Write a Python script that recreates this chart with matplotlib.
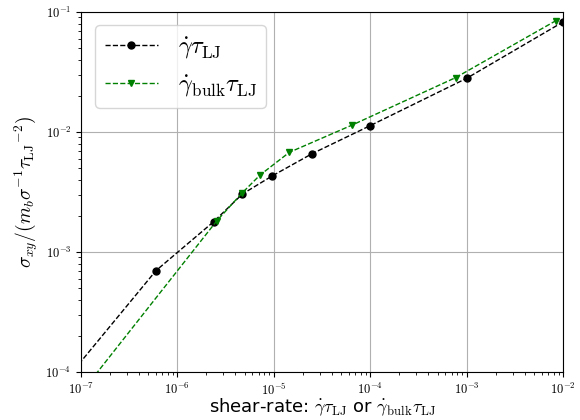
import matplotlib
matplotlib.use('Agg')
import matplotlib.pyplot as plt
from matplotlib.ticker import FuncFormatter, LogLocator
import numpy as np

plt.rcParams['mathtext.fontset'] = 'cm'
plt.rcParams['font.family'] = ['DejaVu Sans']

# shear rate vs shear stress (first point of each series lies outside the view)
rate = [1e-8, 6.0e-7, 2.38e-6, 4.72e-6, 9.6e-6, 2.5e-5, 1.0e-4, 1.0e-3, 1.0e-2]
stress = [1.3e-5, 7.0e-4, 1.79e-3, 3.04e-3, 4.3e-3, 6.6e-3, 1.13e-2, 2.8e-2, 8.26e-2]

rate_bulk = [5e-8, 2.55e-6, 4.65e-6, 7.2e-6, 1.45e-5, 6.5e-5, 7.7e-4, 8.45e-3]
stress_bulk = [3.3e-5, 1.81e-3, 3.08e-3, 4.38e-3, 6.77e-3, 1.143e-2, 2.84e-2, 8.47e-2]

fig = plt.figure(figsize=(5.8, 4.2), dpi=100)
ax = fig.add_axes([81/580, 1 - 372/420, 482/580, 360/420])

ax.plot(rate, stress, color='black', linestyle='--', marker='o',
        markersize=5, linewidth=1.0, label=r'$\dot{\gamma}\tau_{\rm LJ}$')
ax.plot(rate_bulk, stress_bulk, color='green', linestyle='--', marker='v',
        markersize=5, linewidth=1.0, label=r'$\dot{\gamma}_{\rm bulk}\tau_{\rm LJ}$')

ax.set_xscale('log')
ax.set_yscale('log')
ax.set_xlim(1e-7, 1e-2)
ax.set_ylim(1e-4, 1e-1)

fmt = FuncFormatter(lambda v, p: r'$10^{%d}$' % int(round(np.log10(v))))
ax.xaxis.set_major_formatter(fmt)
ax.yaxis.set_major_formatter(fmt)
ax.xaxis.set_major_locator(LogLocator(base=10, numticks=10))
ax.tick_params(labelsize=9)

ax.grid(True, which='major', color='#b0b0b0', linewidth=0.8)

ax.set_xlabel(r'shear-rate: $\dot{\gamma}\tau_{\rm LJ}$ or $\dot{\gamma}_{\rm bulk}\tau_{\rm LJ}$',
              fontsize=13, labelpad=-1)
ax.set_ylabel(r'$\sigma_{xy}/(m_b\sigma^{-1}{\tau_{\rm LJ}}^{-2})$', fontsize=14, labelpad=4)

ax.legend(loc='upper left', fontsize=17.5, handlelength=2.2, labelspacing=0.45,
          handletextpad=0.8, bbox_to_anchor=(0.029, 0.964), borderaxespad=0,
          framealpha=0.8)

plt.savefig('out.png')
